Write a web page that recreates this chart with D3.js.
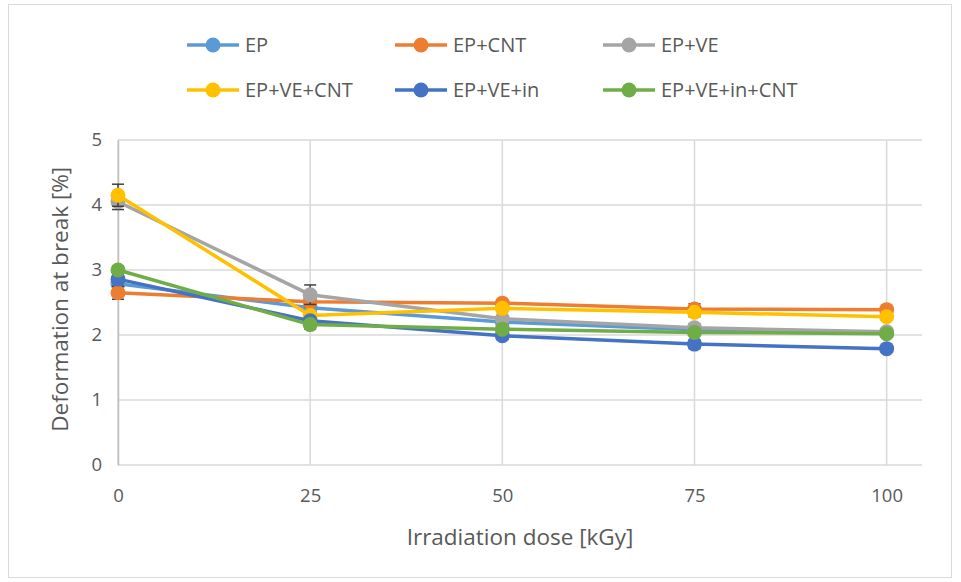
<!DOCTYPE html>
<html><head><meta charset="utf-8">
<script src="https://cdn.jsdelivr.net/npm/d3@7"></script>
<style>body{margin:0;background:#fff}svg{display:block}text{font-family:"Open Sans","Liberation Sans",sans-serif}</style>
</head><body><svg id="c" width="961" height="582"></svg>
<script>
const doses = [0, 25, 50, 75, 100];
const seriesNames = ["EP", "EP+CNT", "EP+VE", "EP+VE+CNT", "EP+VE+in", "EP+VE+in+CNT"];
const seriesColors = ["#5B9BD5", "#ED7D31", "#A5A5A5", "#FFC000", "#4472C4", "#70AD47"];
const EP        = [2.79, 2.42, 2.20, 2.08, 2.03];
const EP_CNT    = [2.65, 2.51, 2.49, 2.40, 2.39];
const EP_VE     = [4.05, 2.62, 2.25, 2.11, 2.05];
const EP_VE_CNT = [4.15, 2.30, 2.41, 2.35, 2.28];
const EP_VE_in  = [2.86, 2.22, 1.99, 1.86, 1.79];
const EP_VE_in_CNT = [3.00, 2.16, 2.09, 2.04, 2.02];
const errEP        = [0.08, 0.06, 0.05, 0.05, 0.04];
const errEP_CNT    = [0.10, 0.07, 0.05, 0.08, 0.04];
const errEP_VE     = [0.12, 0.15, 0.05, 0.06, 0.05];
const errEP_VE_CNT = [0.17, 0.05, 0.05, 0.07, 0.05];
const errEP_VE_in  = [0.06, 0.05, 0.06, 0.07, 0.05];
const errEP_VE_in_CNT = [0.06, 0.07, 0.04, 0.05, 0.05];
const yTicks = [0, 1, 2, 3, 4, 5];
const xTicks = [0, 25, 50, 75, 100];
const xTitle = "Irradiation dose [kGy]";
const yTitle = "Deformation at break [%]";

const allValues = [EP, EP_CNT, EP_VE, EP_VE_CNT, EP_VE_in, EP_VE_in_CNT];
const allErr = [errEP, errEP_CNT, errEP_VE, errEP_VE_CNT, errEP_VE_in, errEP_VE_in_CNT];

const svg = d3.select("#c");
svg.append("rect").attr("x", 8.5).attr("y", 4.5).attr("width", 943).attr("height", 573)
  .attr("fill", "#fff").attr("stroke", "#D9D9D9");

const x = d3.scaleLinear().domain([0, 104.6]).range([118, 922]);
const y = d3.scaleLinear().domain([0, 5]).range([465, 140]);

// gridlines
const g = svg.append("g");
g.selectAll(".hg").data(yTicks).enter().append("line")
  .attr("x1", x(0)).attr("x2", x(104.6)).attr("y1", d => y(d)).attr("y2", d => y(d))
  .attr("stroke", "#D9D9D9").attr("stroke-width", 1.5);
g.selectAll(".vg").data(xTicks).enter().append("line")
  .attr("x1", d => x(d)).attr("x2", d => x(d)).attr("y1", y(0)).attr("y2", y(5))
  .attr("stroke", "#D9D9D9").attr("stroke-width", 1.5);

// axes
const xAxis = svg.append("g").attr("transform", `translate(0,${y(0)})`)
  .call(d3.axisBottom(x).tickValues(xTicks).tickSize(0).tickPadding(24).tickFormat(d3.format("d")));
const yAxis = svg.append("g").attr("transform", `translate(${x(0)},0)`)
  .call(d3.axisLeft(y).tickValues(yTicks).tickSize(0).tickPadding(16).tickFormat(d3.format("d")));
[xAxis, yAxis].forEach(a => {
  a.select(".domain").attr("stroke", "#BFBFBF").attr("stroke-width", 1.5);
  a.selectAll("text").attr("fill", "#595959").style("font-size", "18.5px");
});
xAxis.select(".domain").remove();

svg.append("text").attr("x", x(52.3)).attr("y", 545).attr("text-anchor", "middle")
  .attr("fill", "#595959").style("font-size", "22.5px").text(xTitle);
svg.append("text").attr("transform", `translate(68,${y(2.55)}) rotate(-90)`).attr("text-anchor", "middle")
  .attr("fill", "#595959").style("font-size", "22.5px").text(yTitle);

const line = d3.line().x((d, i) => x(doses[i])).y(d => y(d));

allValues.forEach((vals, s) => {
  const sg = svg.append("g");
  sg.append("path").datum(vals).attr("d", line).attr("fill", "none")
    .attr("stroke", seriesColors[s]).attr("stroke-width", 3.5).attr("stroke-linejoin", "round");
  const err = allErr[s];
  vals.forEach((v, i) => {
    const cx = x(doses[i]);
    sg.append("line").attr("x1", cx).attr("x2", cx).attr("y1", y(v - err[i])).attr("y2", y(v + err[i]))
      .attr("stroke", "#404040").attr("stroke-width", 1.5);
    [v - err[i], v + err[i]].forEach(e => sg.append("line").attr("x1", cx - 6).attr("x2", cx + 6)
      .attr("y1", y(e)).attr("y2", y(e)).attr("stroke", "#404040").attr("stroke-width", 1.5));
  });
  sg.selectAll("circle").data(vals).enter().append("circle")
    .attr("cx", (d, i) => x(doses[i])).attr("cy", d => y(d)).attr("r", 7.5)
    .attr("fill", seriesColors[s]);
});

// legend
const legX = [187, 395, 603];
const legY = [45, 90];
seriesNames.forEach((name, i) => {
  const lx = legX[i % 3], ly = legY[Math.floor(i / 3)];
  const lg = svg.append("g");
  lg.append("line").attr("x1", lx).attr("x2", lx + 52).attr("y1", ly).attr("y2", ly)
    .attr("stroke", seriesColors[i]).attr("stroke-width", 3.5);
  lg.append("circle").attr("cx", lx + 26).attr("cy", ly).attr("r", 7.5).attr("fill", seriesColors[i]);
  lg.append("text").attr("x", lx + 58).attr("y", ly).attr("dy", "0.35em")
    .attr("fill", "#595959").style("font-size", "20px").text(name);
});
</script></body></html>
